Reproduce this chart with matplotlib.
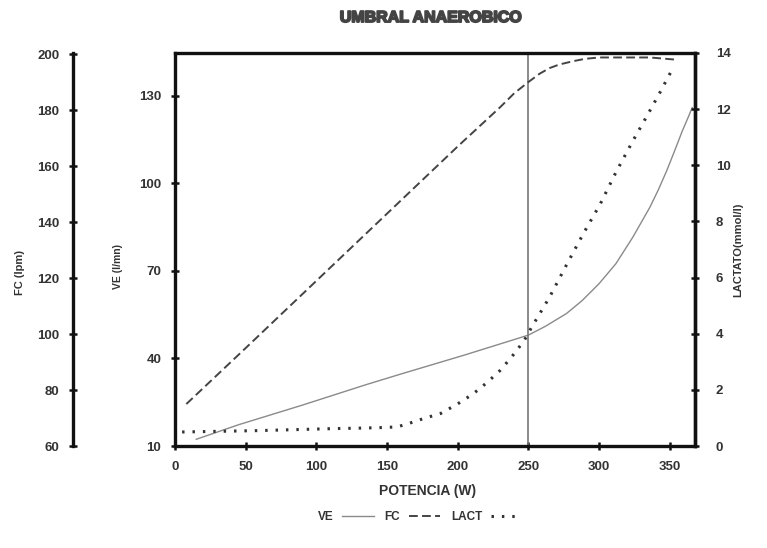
import matplotlib
matplotlib.use('Agg')
import matplotlib.pyplot as plt
import matplotlib.patheffects as pe

plt.rcParams['font.family'] = ['Liberation Sans', 'DejaVu Sans']

# datos
ve_watts = [15, 45, 90, 135, 160, 205, 250, 262, 277, 288, 300, 312, 324, 336, 342,
            348, 353, 359, 363, 366]
ve_vals = [12.3, 17.3, 24, 31, 34.7, 41.2, 48, 51, 55.4, 59.8, 65.6, 72.5, 81.6, 91.8, 97.8,
           104.4, 110.5, 118, 122.5, 126]

fc_watts = [8, 50, 100, 150, 200, 230, 240, 250, 258, 265, 272, 282, 290, 300, 336, 355]
fc_vals = [75, 95, 119, 143, 167, 181, 186, 190, 193, 195, 196.3, 197.5, 198.3, 198.8, 198.8, 198]

lact_watts = [5, 60, 112, 134, 148, 157, 164, 176, 188, 200, 211, 221, 230, 238, 247,
              252, 265, 277, 289, 301, 312, 324, 334, 343, 352]
lact_vals = [0.5, 0.55, 0.62, 0.64, 0.66, 0.68, 0.78, 0.98, 1.16, 1.5, 1.86, 2.27, 2.69, 3.16, 3.75,
             4.2, 5.3, 6.45, 7.57, 8.63, 9.75, 10.87, 11.76, 12.58, 13.43]

umbral = 250

x_ticks = [0, 50, 100, 150, 200, 250, 300, 350]
ve_ticks = [10, 40, 70, 100, 130]
fc_ticks = [60, 80, 100, 120, 140, 160, 180, 200]
lact_ticks = [0, 2, 4, 6, 8, 10, 12, 14]

txt = '#333333'

fig = plt.figure(figsize=(7.67, 5.48), dpi=100)
ax = fig.add_axes([0.2282, 0.1861, 0.678, 0.7172])
ax_fc = ax.twinx()
ax_l = ax.twinx()

# VE en el eje principal
l_ve, = ax.plot(ve_watts, ve_vals, color='#8a8a8a', lw=1.0, label='VE')
ax.axvline(umbral, color='#777777', lw=1.2)
ax.set_xlim(0, 368)
ax.set_ylim(10, 144.7)
ax.set_xticks(x_ticks)
ax.set_yticks(ve_ticks)

# FC con eje separado a la izquierda
l_fc, = ax_fc.plot(fc_watts, fc_vals, color='#444444', lw=1.4, dashes=(4.5, 2.2), label='FC')
ax_fc.set_ylim(60, 200.4)
ax_fc.set_yticks(fc_ticks)
ax_fc.spines['left'].set_position(('axes', -0.196))
ax_fc.yaxis.set_ticks_position('left')
for s in ['right', 'top', 'bottom']:
    ax_fc.spines[s].set_visible(False)

# lactato a la derecha
l_la, = ax_l.plot(lact_watts, lact_vals, color='#333333', lw=2.2, linestyle=(0, (0.8, 2.6)),
                  label='LACT')
ax_l.set_ylim(0, 14)
ax_l.set_yticks(lact_ticks)
for s in ['left', 'top', 'bottom']:
    ax_l.spines[s].set_visible(False)

for a in [ax, ax_fc, ax_l]:
    for s in a.spines.values():
        s.set_linewidth(2.4)
        s.set_color('#111111')
    a.tick_params(direction='inout', length=6, width=1.8, color='#111111', pad=7)
    for lab in a.get_xticklabels() + a.get_yticklabels():
        lab.set_fontsize(9.5)
        lab.set_fontweight('bold')
        lab.set_color(txt)
ax.tick_params(axis='x', pad=8)
ax_l.tick_params(pad=12)

# titulos
fig.text(0.562, 0.968, 'UMBRAL ANAEROBICO', ha='center', va='center', fontsize=11.5,
         fontweight='bold', color='#444444',
         path_effects=[pe.withStroke(linewidth=1.3, foreground='#444444')])
fig.text(0.558, 0.104, 'POTENCIA (W)', ha='center', va='center', fontsize=10,
         fontweight='bold', color=txt)
fig.text(0.026, 0.502, 'FC (lpm)', rotation=90, ha='center', va='center', fontsize=8,
         fontweight='bold', color=txt)
fig.text(0.154, 0.513, 'VE (l/mn)', rotation=90, ha='center', va='center', fontsize=7.5,
         fontweight='bold', color=txt)
fig.text(0.962, 0.545, 'LACTATO(mmol/l)', rotation=90, ha='center', va='center', fontsize=8,
         fontweight='bold', color=txt)

fig.legend([l_ve, l_fc, l_la], ['VE', 'FC', 'LACT'], loc='center', bbox_to_anchor=(0.548, 0.057),
           ncol=3, frameon=False, markerfirst=False, handlelength=2.7, columnspacing=0.9,
           handletextpad=0.7, prop=dict(size=8.5, weight='bold'), labelcolor=txt)

fig.savefig('out.png', dpi=100)
